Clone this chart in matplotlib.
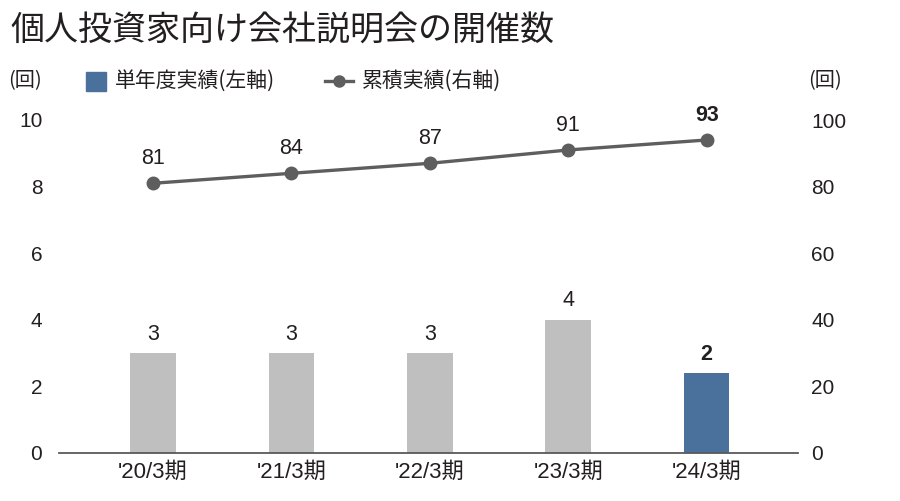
import matplotlib
matplotlib.use("Agg")
import matplotlib.pyplot as plt
from matplotlib.patches import Rectangle
from matplotlib.lines import Line2D

plt.rcParams['font.family'] = ['Liberation Sans', 'Noto Sans CJK JP', 'DejaVu Sans']

# data
periods = ["'20/3期", "'21/3期", "'22/3期", "'23/3期", "'24/3期"]
yearly = [3, 3, 3, 4, 2.4]          # bar heights as drawn
yearly_labels = ["3", "3", "3", "4", "2"]
cumulative = [81, 84, 87, 91, 94]   # line points as drawn
cumulative_labels = ["81", "84", "87", "91", "93"]
left_ticks = [0, 2, 4, 6, 8, 10]
right_ticks = [0, 20, 40, 60, 80, 100]

txt = '#231f20'
gray_bar = '#bfbfbf'
blue_bar = '#4a709c'
line_col = '#5e5e5e'
W, H = 900, 501

fig = plt.figure(figsize=(9, 5.01), dpi=100)
ax = fig.add_axes([59/W, 1-453/H, (798-59)/W, (453-120)/H])
ax2 = ax.twinx()

x = list(range(len(periods)))
colors = [gray_bar]*(len(periods)-1) + [blue_bar]
ax.bar(x, yearly, width=0.33, color=colors, zorder=2)
for i, (v, lab) in enumerate(zip(yearly, yearly_labels)):
    bold = i == len(periods)-1
    ax.annotate(lab, (i, v), xytext=(0, 6), textcoords='offset points',
                ha='center', va='bottom', fontsize=15.5, color=txt,
                fontweight='bold' if bold else 'normal')

ax2.plot(x, cumulative, color=line_col, lw=2.4, marker='o', ms=9, zorder=3)
for i, (v, lab) in enumerate(zip(cumulative, cumulative_labels)):
    bold = i == len(periods)-1
    ax2.annotate(lab, (i, v), xytext=(0, 10), textcoords='offset points',
                 ha='center', va='bottom', fontsize=15.5, color=txt,
                 fontweight='bold' if bold else 'normal')

ax.set_xlim(-0.68, 4.66)
ax.set_ylim(0, 10)
ax2.set_ylim(0, 100)
ax.set_xticks(x)
ax.set_xticklabels(periods)
ax.set_yticks(left_ticks)
ax2.set_yticks(right_ticks)

for a in (ax, ax2):
    for s in a.spines.values():
        s.set_visible(False)
    a.tick_params(length=0, labelsize=15, colors=txt)
ax.spines['bottom'].set_visible(True)
ax.spines['bottom'].set_color('#595959')
ax.spines['bottom'].set_linewidth(1.3)
ax.tick_params(axis='x', labelsize=16, pad=6)
ax.tick_params(axis='y', pad=12)
ax2.tick_params(axis='y', pad=9.5)
ax2.set_zorder(ax.get_zorder()+1)
ax2.patch.set_visible(False)

fig.text(10/W, 1-30/H, "個人投資家向け会社説明会の開催数", fontsize=24.5,
         color=txt, va='center', ha='left', family=['Noto Sans CJK JP'])
for xp in (8, 808):
    fig.text(xp/W, 1-81/H, "(回)", fontsize=14.5, color=txt, va='center',
             ha='left', family=['Noto Sans CJK JP', 'DejaVu Sans'])

# legend
fig.add_artist(Rectangle((86/W, 1-91/H), 20/W, 19/H, color=blue_bar,
                         transform=fig.transFigure))
fig.text(115/W, 1-81/H, "単年度実績(左軸)", fontsize=15, color=txt,
         va='center', ha='left', family=['Noto Sans CJK JP'])
fig.add_artist(Line2D([325/W, 353/W], [1-81/H, 1-81/H], color=line_col,
                      lw=2.4, transform=fig.transFigure))
fig.add_artist(Line2D([339/W], [1-81/H], color=line_col, marker='o', ms=8,
                      transform=fig.transFigure))
fig.text(362/W, 1-81/H, "累積実績(右軸)", fontsize=15, color=txt,
         va='center', ha='left', family=['Noto Sans CJK JP'])

fig.savefig("out.png", dpi=100)
